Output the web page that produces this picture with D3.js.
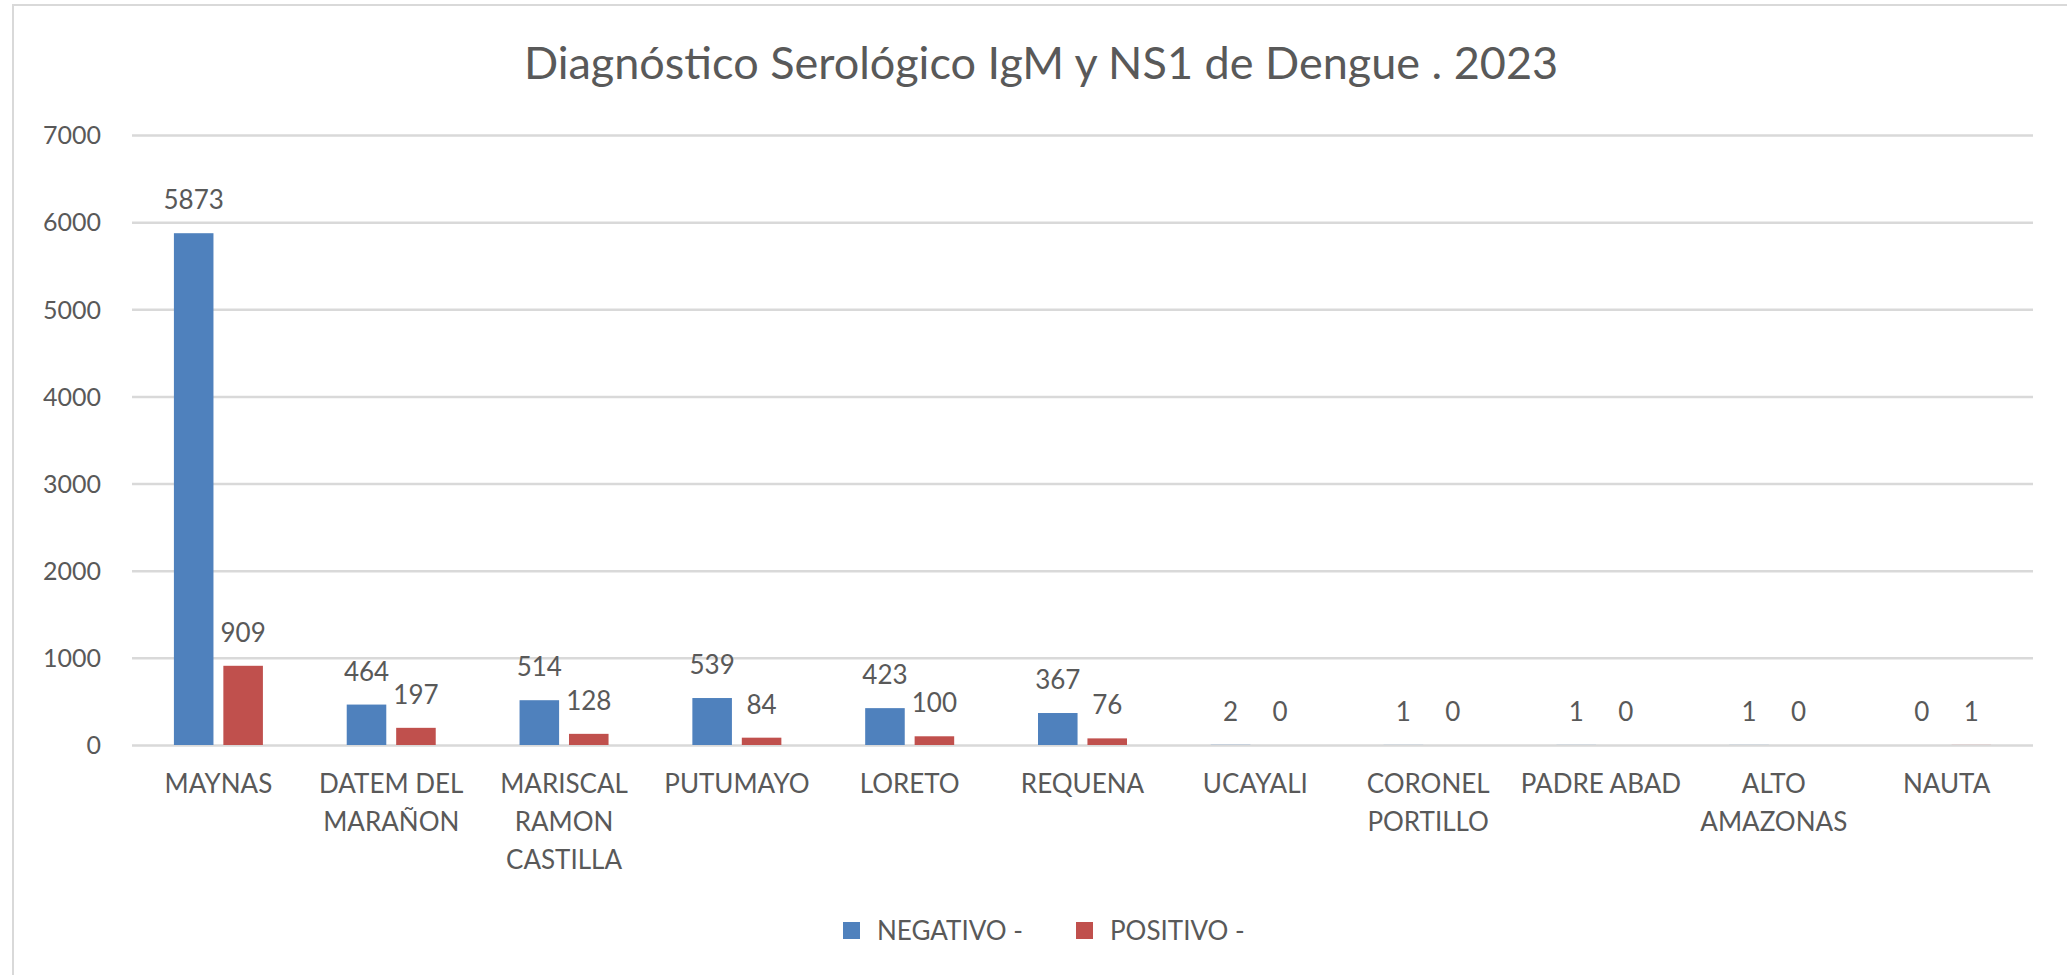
<!DOCTYPE html>
<html>
<head>
<meta charset="utf-8">
<script src="https://cdn.jsdelivr.net/npm/d3@7"></script>
<style>
  html, body { margin: 0; padding: 0; background: #ffffff; }
  svg { display: block; }
  text { font-family: Lato, "Open Sans", "DejaVu Sans", sans-serif; fill: #595959; }
</style>
</head>
<body>
<svg id="chart" width="2067" height="975"></svg>
<script>
// ---- data ----
const title = "Diagnóstico Serológico IgM y NS1 de Dengue . 2023";
const categories = [
  "MAYNAS", "DATEM DEL\nMARAÑON", "MARISCAL\nRAMON\nCASTILLA", "PUTUMAYO", "LORETO",
  "REQUENA", "UCAYALI", "CORONEL\nPORTILLO", "PADRE ABAD", "ALTO\nAMAZONAS", "NAUTA"
];
const seriesNames = ["NEGATIVO -", "POSITIVO -"];
const negativo = [5873, 464, 514, 539, 423, 367, 2, 1, 1, 1, 0];
const positivo = [909, 197, 128, 84, 100, 76, 0, 0, 0, 0, 1];
const yTicks = [0, 1000, 2000, 3000, 4000, 5000, 6000, 7000];
const colors = ["#4F81BD", "#C0504D"];

// ---- layout ----
const W = 2067, H = 975;
const plot = { left: 132, right: 2033, top: 135, bottom: 745 };
const svg = d3.select("#chart");

// chart border
svg.append("rect")
  .attr("x", 13).attr("y", 5)
  .attr("width", W + 20).attr("height", H + 20)
  .attr("fill", "#ffffff")
  .attr("stroke", "#D9D9D9").attr("stroke-width", 2);

const x0 = d3.scaleBand().domain(categories).range([plot.left, plot.right]).paddingInner(0).paddingOuter(0);
const groupW = 89;
const x1 = d3.scaleBand().domain(seriesNames).range([0, groupW]).paddingInner(0.2).paddingOuter(0);
const y = d3.scaleLinear().domain([0, 7000]).range([plot.bottom, plot.top]);

// gridlines
const yAxis = d3.axisLeft(y).tickValues(yTicks).tickSize(-(plot.right - plot.left)).tickPadding(31).tickFormat(d3.format("d"));
const gy = svg.append("g").attr("transform", `translate(${plot.left},0)`).call(yAxis);
gy.select(".domain").remove();
gy.selectAll(".tick line").attr("stroke", "#D9D9D9").attr("stroke-width", 2.5);
gy.selectAll(".tick text")
  .attr("font-size", 25)
  .attr("dy", "0.35em")
  .style("fill", "#595959");

// bars
const data = categories.map((c, i) => ({ cat: c, vals: [negativo[i], positivo[i]] }));
const groups = svg.append("g").selectAll("g")
  .data(data).join("g")
  .attr("transform", d => `translate(${x0(d.cat) + (x0.bandwidth() - groupW) / 2},0)`);

groups.selectAll("rect")
  .data(d => d.vals.map((v, j) => ({ s: seriesNames[j], v, j })))
  .join("rect")
  .attr("x", d => x1(d.s))
  .attr("width", x1.bandwidth())
  .attr("y", d => y(d.v))
  .attr("height", d => y(0) - y(d.v))
  .attr("fill", d => colors[d.j]);

groups.selectAll("text.lbl")
  .data(d => d.vals.map((v, j) => ({ s: seriesNames[j], v, j })))
  .join("text")
  .attr("class", "lbl")
  .attr("x", d => x1(d.s) + x1.bandwidth() / 2)
  .attr("y", d => y(d.v) - 24)
  .attr("text-anchor", "middle")
  .attr("font-size", 26)
  .text(d => d.v);

// x axis labels
const xAxis = d3.axisBottom(x0).tickSize(0).tickPadding(0).tickFormat(() => "");
const gx = svg.append("g").attr("transform", `translate(0,${plot.bottom})`).call(xAxis);
gx.select(".domain").remove();
gx.selectAll(".tick").each(function(d) {
  const lines = d.split("\n");
  const t = d3.select(this).append("text")
    .attr("text-anchor", "middle")
    .attr("font-size", 26)
    .style("fill", "#595959");
  lines.forEach((ln, k) => {
    t.append("tspan").attr("x", 0).attr("y", 48 + k * 38).text(ln);
  });
});

// title
svg.append("text")
  .attr("x", 1041).attr("y", 79)
  .attr("text-anchor", "middle")
  .attr("font-size", 45)
  .text(title);

// legend
const legend = svg.append("g");
const legendItems = [
  { name: seriesNames[0], color: colors[0], x: 843 },
  { name: seriesNames[1], color: colors[1], x: 1076 }
];
legendItems.forEach(it => {
  legend.append("rect").attr("x", it.x).attr("y", 922).attr("width", 17).attr("height", 17).attr("fill", it.color);
  legend.append("text").attr("x", it.x + 34).attr("y", 940).attr("font-size", 26).text(it.name);
});
</script>
</body>
</html>
